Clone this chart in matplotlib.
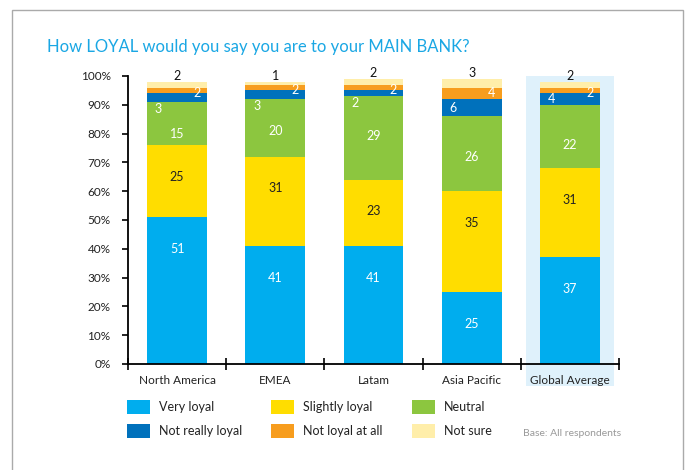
import matplotlib
matplotlib.use('Agg')
import matplotlib.pyplot as plt
from matplotlib.patches import Rectangle
import numpy as np

plt.rcParams['font.family'] = ['Lato', 'DejaVu Sans']

# data (percent of respondents)
regions = ['North America', 'EMEA', 'Latam', 'Asia Pacific', 'Global Average']
series = ['Very loyal', 'Slightly loyal', 'Neutral', 'Not really loyal', 'Not loyal at all', 'Not sure']
very_loyal = [51, 41, 41, 25, 37]
slightly_loyal = [25, 31, 23, 35, 31]
neutral = [15, 20, 29, 26, 22]
not_really = [3, 3, 2, 6, 4]
not_at_all = [2, 2, 2, 4, 2]
not_sure = [2, 1, 2, 3, 2]
colors = ['#00adee', '#ffdd00', '#8cc63f', '#0071bc', '#f79d1e', '#ffeeaa']

W, H = 688, 470
fig = plt.figure(figsize=(W / 100, H / 100), dpi=100)
ax = fig.add_axes([128 / W, 1 - 364 / H, (619 - 128) / W, (364 - 76) / H])

x = np.arange(len(regions))
values = [very_loyal, slightly_loyal, neutral, not_really, not_at_all, not_sure]
bottom = np.zeros(len(regions))
tops = []
for vals, c, name in zip(values, colors, series):
    ax.bar(x, vals, 0.61, bottom=bottom, color=c, label=name, zorder=2)
    bottom = bottom + np.array(vals)
    tops.append(bottom.copy())

# highlight behind Global Average
ax.add_patch(Rectangle((3.55, -7.6), 0.9, 107.6, facecolor='#dff1fb', edgecolor='none',
                       zorder=0, clip_on=False))

# value labels
lab = dict(fontsize=9, ha='center', va='center', zorder=3)
for i in range(len(regions)):
    ax.text(x[i], tops[0][i] - 11, str(very_loyal[i]), color='white', **lab)
    ax.text(x[i], tops[1][i] - 11, str(slightly_loyal[i]), color='#222222', **lab)
    ax.text(x[i], tops[2][i] - (11 if i < 2 else 14), str(neutral[i]), color='white', **lab)
    if not_really[i] >= 4:
        yb = tops[2][i] + not_really[i] / 2
    else:
        yb = tops[2][i] - 2.5
    ax.text(x[i] - 0.19, yb, str(not_really[i]), color='white', **lab)
    yo = tops[3][i] + not_at_all[i] / 2 - (0 if not_at_all[i] >= 4 else 0.8)
    ax.text(x[i] + 0.2, yo, str(not_at_all[i]), color='white', **lab)
    ax.text(x[i], tops[5][i] + 2, str(not_sure[i]), color='#111111', **lab)

ax.set_xlim(-0.5, 4.5)
ax.set_ylim(0, 100)
ax.set_yticks(np.arange(0, 101, 10))
ax.set_yticklabels([f'{v}%' for v in range(0, 101, 10)], fontsize=8.5, color='#222222')
ax.set_xticks(x)
ax.set_xticklabels(regions, fontsize=8.5, color='#222222')
ax.tick_params(axis='x', length=0, pad=8)
ax.set_xticks(np.arange(-0.5, 4.6, 1), minor=True)
ax.tick_params(axis='x', which='minor', direction='inout', length=8, width=1.2, color='black')
ax.tick_params(axis='y', direction='out', length=4.5, width=1.2, color='black', pad=8)
for s in ['top', 'right']:
    ax.spines[s].set_visible(False)
for s in ['left', 'bottom']:
    ax.spines[s].set_linewidth(1.3)
    ax.spines[s].set_zorder(4)

# title
fig.text(47 / W, 1 - 47 / H, 'How LOYAL would you say you are to your MAIN BANK?',
         fontsize=12, color='#1aa7e4', ha='left', va='center')

# legend drawn by hand in a 3 x 2 grid
col_x = [127, 271, 412]
row_y = [407, 431]
for k, (name, c) in enumerate(zip(series, colors)):
    cx = col_x[k % 3]
    cy = row_y[k // 3]
    fig.patches.append(Rectangle((cx / W, 1 - (cy + 7) / H), 23 / W, 14 / H,
                                 facecolor=c, edgecolor='none', transform=fig.transFigure))
    fig.text((cx + 32) / W, 1 - cy / H, name, fontsize=9, color='#222222', va='center')

fig.text(523 / W, 1 - 434 / H, 'Base: All respondents', fontsize=7.5, color='#999999', va='center')

# outer border
fig.patches.append(Rectangle((12 / W, -0.05), (683 - 12) / W, 1.05 - 10 / H, facecolor='none',
                             edgecolor='#aaaaaa', linewidth=1, transform=fig.transFigure))

fig.savefig('out.png', dpi=100)
